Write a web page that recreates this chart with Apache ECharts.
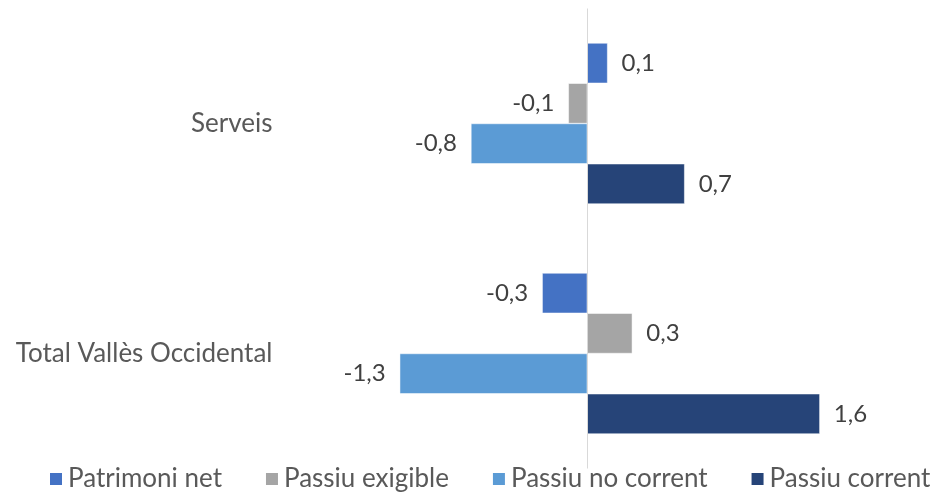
<!DOCTYPE html>
<html>
<head>
<meta charset="utf-8">
<script src="https://cdn.jsdelivr.net/npm/echarts@6/dist/echarts.min.js"></script>
<style>
  html, body { margin: 0; padding: 0; background: #fff; }
  #chart { width: 938px; height: 494px; }
</style>
</head>
<body>
<div id="chart"></div>
<script>
// categories, top to bottom
const categories = ['Serveis', 'Total Vallès Occidental']
const seriesNames = ['Patrimoni net', 'Passiu exigible', 'Passiu no corrent', 'Passiu corrent']
// values (labels show one decimal)
const patrimoniNet = [0.14, -0.31]
const passiuExigible = [-0.13, 0.31]
const passiuNoCorrent = [-0.8, -1.29]
const passiuCorrent = [0.67, 1.6]

const colors = ['#4472C4', '#A5A5A5', '#5B9BD5', '#264478']
const font = 'Lato, "Open Sans", sans-serif'

// label goes to the side the bar points to
function toItems(arr) {
  return arr.map(v => ({
    value: v,
    label: { position: v < 0 ? 'left' : 'right' }
  }))
}

function fmt(p) {
  return p.value.toFixed(1).replace('.', ',')
}

const allValues = [patrimoniNet, passiuExigible, passiuNoCorrent, passiuCorrent]

const series = allValues.map((arr, i) => ({
  name: seriesNames[i],
  type: 'bar',
  barGap: '0%',
  barCategoryGap: '30%',
  itemStyle: { color: colors[i], borderColor: '#fff', borderWidth: 0.5 },
  label: {
    show: true,
    distance: 14,
    formatter: fmt,
    color: '#404040',
    fontSize: 24,
    fontFamily: font
  },
  data: toItems(arr),
  markLine: i === 0 ? {
    silent: true,
    symbol: 'none',
    label: { show: false },
    lineStyle: { color: '#D9D9D9', width: 1, type: 'solid' },
    data: [{ xAxis: 0 }]
  } : undefined
}))

const chart = echarts.init(document.getElementById('chart'))
chart.setOption({
  animation: false,
  grid: {
    left: 296.5,
    right: 60,
    top: 8.5,
    bottom: 25.5,
    containLabel: false
  },
  legend: {
    data: seriesNames,
    left: 48,
    top: 466,
    width: 890,
    padding: 0,
    icon: 'rect',
    itemWidth: 14,
    itemHeight: 14,
    itemGap: 42,
    textStyle: { color: '#595959', fontSize: 26, fontFamily: font }
  },
  xAxis: {
    type: 'value',
    min: -2,
    max: 2,
    show: false
  },
  yAxis: {
    type: 'category',
    inverse: true,
    data: categories,
    axisLine: { show: false },
    axisTick: { show: false },
    axisLabel: {
      margin: 24,
      color: '#595959',
      fontSize: 26,
      fontFamily: font
    }
  },
  series: series
})
</script>
</body>
</html>
